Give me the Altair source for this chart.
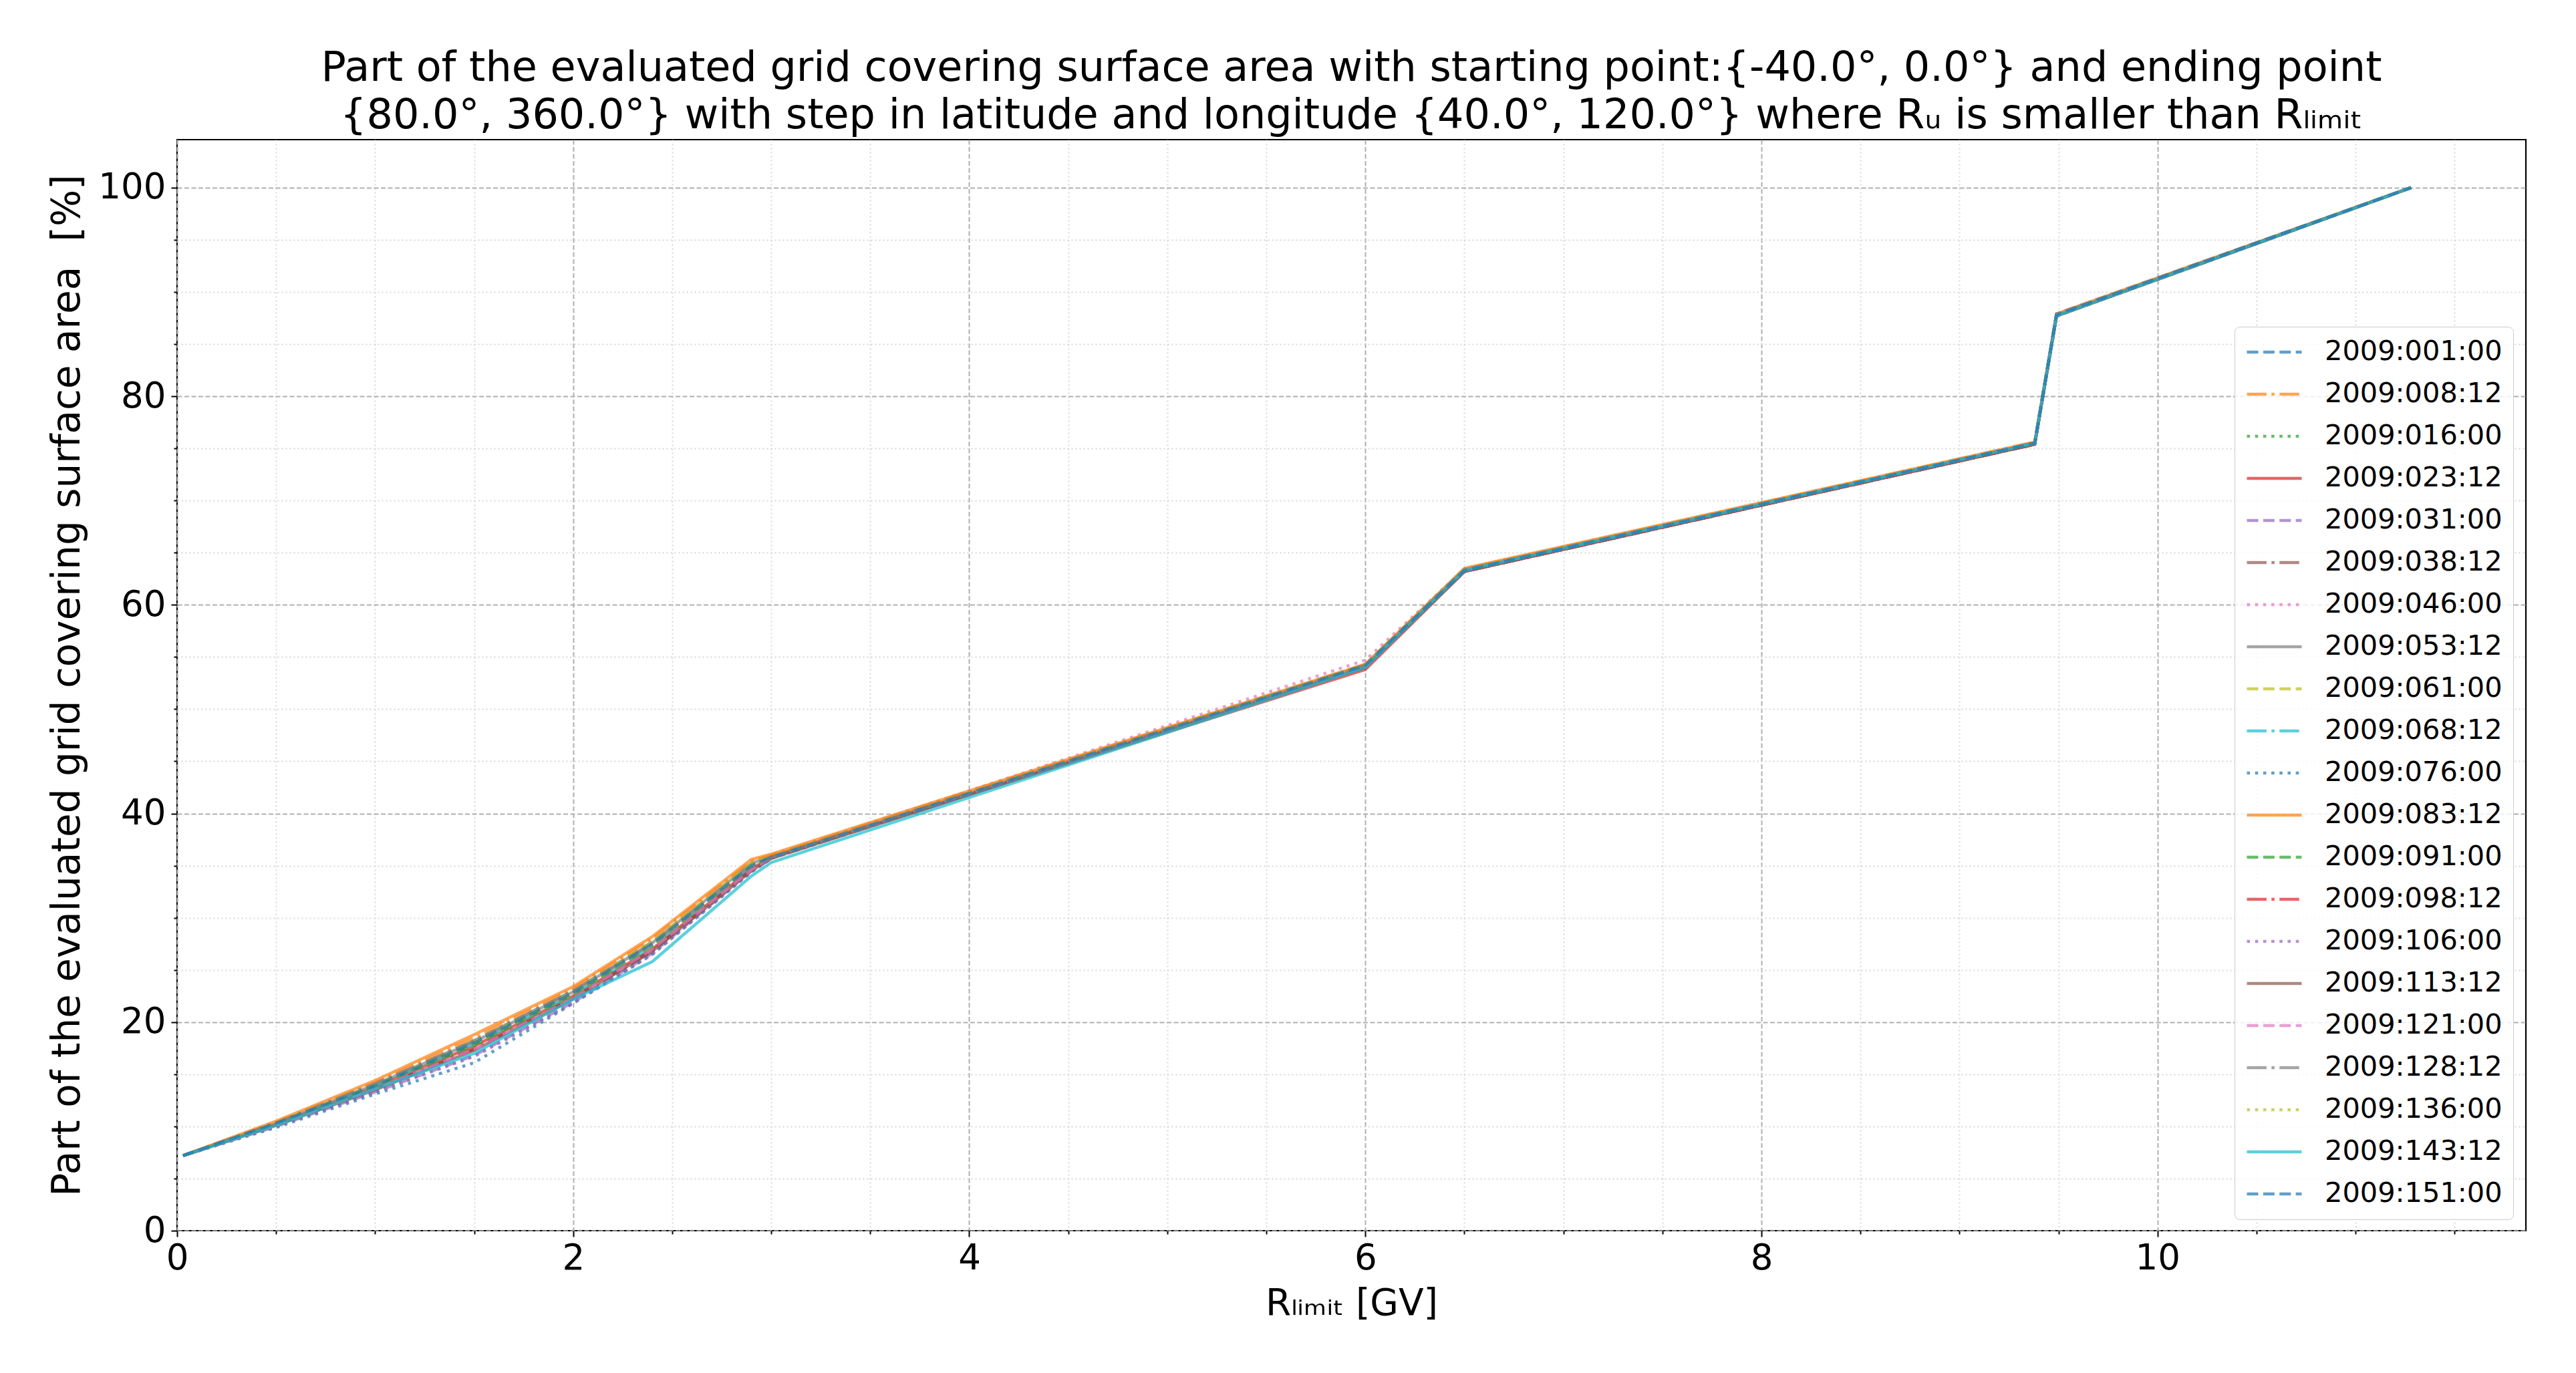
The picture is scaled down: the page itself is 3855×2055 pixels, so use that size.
import altair as alt
import pandas as pd

# ---- data ----
rlimit_gv = [0.03, 0.5, 1.0, 1.5, 2.0, 2.4, 2.9, 3.0, 6.0, 6.5, 9.38, 9.49, 11.28]

series_names = [
    "2009:001:00", "2009:008:12", "2009:016:00", "2009:023:12", "2009:031:00",
    "2009:038:12", "2009:046:00", "2009:053:12", "2009:061:00", "2009:068:12",
    "2009:076:00", "2009:083:12", "2009:091:00", "2009:098:12", "2009:106:00",
    "2009:113:12", "2009:121:00", "2009:128:12", "2009:136:00", "2009:143:12",
    "2009:151:00",
]

y_001_00 = [7.2, 10.3, 14.0, 18.2, 23.0, 27.7, 35.2, 35.9, 54.2, 63.4, 75.5, 87.9, 100.0]
y_008_12 = [7.2, 10.4, 14.2, 18.5, 23.2, 28.0, 35.4, 36.0, 54.3, 63.4, 75.6, 87.8, 100.0]
y_016_00 = [7.2, 10.2, 13.8, 17.8, 22.6, 27.3, 34.9, 35.8, 54.2, 63.3, 75.5, 87.7, 100.0]
y_023_12 = [7.2, 10.2, 13.8, 17.7, 22.5, 27.0, 34.7, 35.8, 53.8, 63.2, 75.4, 87.7, 100.0]
y_031_00 = [7.2, 10.0, 13.3, 16.8, 21.9, 26.6, 34.5, 35.7, 54.1, 63.2, 75.4, 87.7, 100.0]
y_038_12 = [7.2, 10.1, 13.6, 17.4, 22.3, 26.8, 34.6, 35.7, 54.1, 63.2, 75.4, 87.7, 100.0]
y_046_00 = [7.2, 10.3, 14.0, 18.0, 22.8, 27.5, 35.1, 35.9, 54.7, 63.4, 75.5, 87.8, 100.0]
y_053_12 = [7.2, 10.3, 14.0, 18.1, 22.9, 27.6, 35.2, 35.9, 54.2, 63.4, 75.5, 87.8, 100.0]
y_061_00 = [7.2, 10.3, 14.0, 18.1, 22.9, 27.7, 35.2, 35.9, 54.3, 63.3, 75.5, 87.8, 100.0]
y_068_12 = [7.2, 10.3, 13.9, 17.9, 22.6, 27.2, 34.8, 35.8, 54.2, 63.4, 75.5, 87.8, 100.0]
y_076_00 = [7.2, 9.9, 13.1, 16.1, 21.8, 26.5, 34.4, 35.7, 54.1, 63.3, 75.5, 87.7, 100.0]
y_083_12 = [7.2, 10.5, 14.4, 18.8, 23.4, 28.2, 35.6, 36.1, 54.3, 63.5, 75.6, 87.9, 100.0]
y_091_00 = [7.2, 10.2, 13.8, 17.8, 22.6, 27.2, 34.8, 35.8, 54.1, 63.3, 75.5, 87.8, 100.0]
y_098_12 = [7.2, 10.1, 13.6, 17.4, 22.3, 26.9, 34.6, 35.8, 54.0, 63.2, 75.4, 87.7, 100.0]
y_106_00 = [7.2, 10.0, 13.3, 16.7, 21.8, 26.5, 34.4, 35.7, 54.1, 63.2, 75.4, 87.7, 100.0]
y_113_12 = [7.2, 10.1, 13.5, 17.3, 22.2, 26.8, 34.5, 35.7, 54.0, 63.2, 75.4, 87.7, 100.0]
y_121_00 = [7.2, 10.1, 13.6, 17.4, 22.3, 27.0, 34.6, 35.8, 54.1, 63.3, 75.5, 87.8, 100.0]
y_128_12 = [7.2, 10.3, 14.1, 18.2, 23.0, 27.5, 35.0, 35.8, 54.2, 63.3, 75.5, 87.8, 100.0]
y_136_00 = [7.2, 10.2, 13.9, 17.9, 22.7, 27.4, 35.0, 35.8, 54.3, 63.3, 75.5, 87.7, 100.0]
y_143_12 = [7.2, 10.1, 13.6, 17.0, 22.2, 25.8, 34.0, 35.3, 54.0, 63.3, 75.5, 87.7, 100.0]
y_151_00 = [7.2, 10.3, 13.9, 18.0, 22.8, 27.5, 35.0, 35.8, 54.2, 63.3, 75.5, 87.8, 100.0]

series_values = [
    y_001_00, y_008_12, y_016_00, y_023_12, y_031_00, y_038_12, y_046_00,
    y_053_12, y_061_00, y_068_12, y_076_00, y_083_12, y_091_00, y_098_12,
    y_106_00, y_113_12, y_121_00, y_128_12, y_136_00, y_143_12, y_151_00,
]

x_ticks = [i * 0.5 for i in range(24)]
y_ticks = [i * 5 for i in range(21)]

# ---- styles ----
tab10 = ["#1f77b4", "#ff7f0e", "#2ca02c", "#d62728", "#9467bd",
         "#8c564b", "#e377c2", "#7f7f7f", "#bcbd22", "#17becf"]
lw = 4.6
dash_styles = [[3.7 * lw, 1.6 * lw], [6.4 * lw, 1.6 * lw, 1.0 * lw, 1.6 * lw],
               [1.0 * lw, 1.65 * lw], [1, 0]]
colors = [tab10[i % 10] for i in range(len(series_names))]
dashes = [dash_styles[i % 4] for i in range(len(series_names))]

rows = []
for name, ys in zip(series_names, series_values):
    for x, y in zip(rlimit_gv, ys):
        rows.append({"series": name, "R": x, "P": y})
df = pd.DataFrame(rows)

FONT = "DejaVu Sans"

legend = alt.Legend(
    title=None, orient="none", legendX=3079, legendY=280,
    symbolType="stroke", symbolSize=6724, symbolStrokeWidth=lw,
    symbolOpacity=0.7, labelFontSize=41.5, labelFont=FONT, labelColor="black",
    labelOffset=32, labelLimit=0, clipHeight=44, rowPadding=19, padding=16,
    fillColor="rgba(255,255,255,0.8)", strokeColor="#cccccc", cornerRadius=8,
)

x_axis = alt.Axis(
    values=x_ticks, title="Rₗᵢₘᵢₜ [GV]", titleFontSize=55, titlePadding=14,
    labelExpr="datum.value % 2 === 0 ? format(datum.value, 'd') : ''",
    labelFontSize=53, labelPadding=6, labelFlush=False, labelOverlap=False,
    domain=False, tickColor="black", tickWidth=2,
    tickSize={"condition": {"test": "datum.value % 2 === 0", "value": 9}, "value": 5},
    gridWidth=2,
    gridColor={"condition": {"test": "datum.value % 2 === 0", "value": "#b0b0b0"}, "value": "#d6d6d6"},
    gridDash={"condition": {"test": "datum.value % 2 === 0", "value": [7, 3.5]}, "value": [2, 4]},
)
y_axis = alt.Axis(
    values=y_ticks, title="Part of the evaluated grid covering surface area\u00a0\u00a0[%]",
    titleFontSize=58, titlePadding=16,
    labelExpr="datum.value % 20 === 0 ? format(datum.value, 'd') : ''",
    labelFontSize=53, labelPadding=8, labelFlush=False, labelOverlap=False,
    domain=False, tickColor="black", tickWidth=2,
    tickSize={"condition": {"test": "datum.value % 20 === 0", "value": 9}, "value": 5},
    gridWidth=2,
    gridColor={"condition": {"test": "datum.value % 20 === 0", "value": "#b0b0b0"}, "value": "#d6d6d6"},
    gridDash={"condition": {"test": "datum.value % 20 === 0", "value": [7, 3.5]}, "value": [2, 4]},
)

title = alt.TitleParams(
    text=["Part of the evaluated grid covering surface area with starting point:{-40.0°, 0.0°} and ending point",
          "{80.0°, 360.0°} with step in latitude and longitude {40.0°, 120.0°} where Rᵤ is smaller than Rₗᵢₘᵢₜ"],
    font=FONT, fontSize=62, fontWeight="normal", color="black",
    anchor="middle", frame="group", lineHeight=71, offset=4,
)

chart = alt.Chart(df, title=title).mark_line(
    strokeWidth=lw, opacity=0.7, clip=True, strokeCap="butt"
).encode(
    x=alt.X("R:Q", scale=alt.Scale(domain=[0, 11.86], nice=False, zero=False), axis=x_axis),
    y=alt.Y("P:Q", scale=alt.Scale(domain=[0, 104.6], nice=False, zero=False), axis=y_axis),
    color=alt.Color("series:N", scale=alt.Scale(domain=series_names, range=colors), legend=legend),
    strokeDash=alt.StrokeDash("series:N", scale=alt.Scale(domain=series_names, range=dashes), legend=legend),
    order=alt.Order("R:Q"),
).properties(
    width=3515, height=1633,
    autosize=alt.AutoSizeParams(type="none"),
    padding={"left": 257, "top": 201, "right": 55, "bottom": 180},
).configure_view(
    stroke="black", strokeWidth=2.2
).configure_axis(
    labelFont=FONT, titleFont=FONT, labelColor="black", titleColor="black",
    titleFontWeight="normal",
)

chart.save("out.html", embed_options={"renderer": "svg", "actions": False})
